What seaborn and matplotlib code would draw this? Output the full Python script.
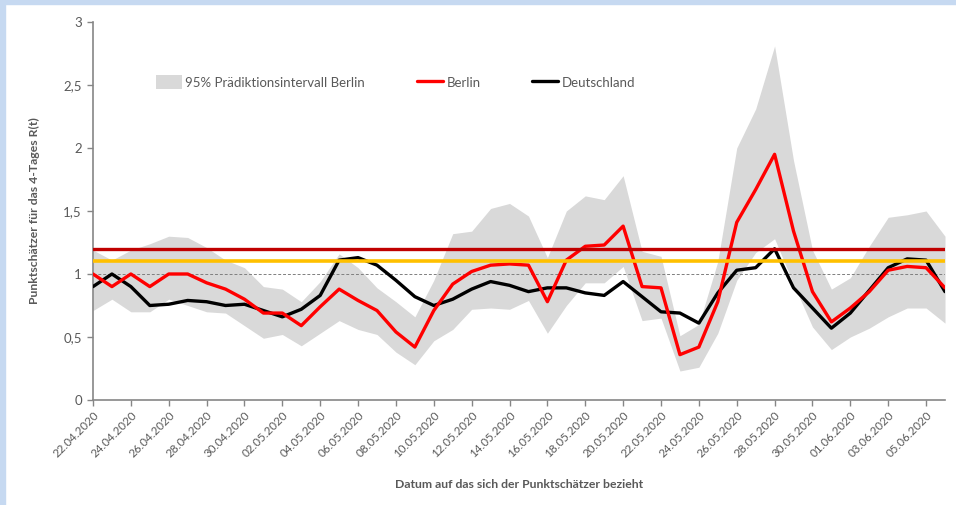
import matplotlib
matplotlib.use("Agg")
import matplotlib.pyplot as plt
from matplotlib.patches import Patch, Rectangle
from matplotlib.lines import Line2D
import pandas as pd
import seaborn as sns

# Daten: 4-Tages R(t), 22.04.2020 - 06.06.2020
dates = pd.date_range("2020-04-22", "2020-06-06", freq="D")

berlin = [1.00, 0.90, 1.00, 0.90, 1.00, 1.00, 0.93, 0.88, 0.80, 0.69,
          0.69, 0.59, 0.74, 0.88, 0.79, 0.71, 0.54, 0.42, 0.71, 0.92,
          1.02, 1.07, 1.08, 1.07, 0.78, 1.11, 1.22, 1.23, 1.38, 0.90,
          0.89, 0.36, 0.42, 0.78, 1.41, 1.67, 1.95, 1.34, 0.86, 0.62,
          0.73, 0.86, 1.03, 1.06, 1.05, 0.89]
deutschland = [0.90, 1.00, 0.90, 0.75, 0.76, 0.79, 0.78, 0.75, 0.76, 0.71,
               0.66, 0.72, 0.83, 1.11, 1.13, 1.07, 0.95, 0.82, 0.75, 0.80,
               0.88, 0.94, 0.91, 0.86, 0.89, 0.89, 0.85, 0.83, 0.94, 0.82,
               0.70, 0.69, 0.61, 0.85, 1.03, 1.05, 1.20, 0.89, 0.73, 0.57,
               0.69, 0.87, 1.05, 1.12, 1.11, 0.86]
pi_upper = [1.19, 1.11, 1.19, 1.24, 1.30, 1.29, 1.21, 1.11, 1.05, 0.90,
            0.88, 0.78, 0.94, 1.16, 1.05, 0.89, 0.78, 0.66, 0.95, 1.32,
            1.34, 1.52, 1.56, 1.46, 1.13, 1.50, 1.62, 1.59, 1.78, 1.18,
            1.14, 0.51, 0.60, 1.10, 2.00, 2.31, 2.81, 1.90, 1.19, 0.88,
            0.97, 1.22, 1.45, 1.47, 1.50, 1.30]
pi_lower = [0.71, 0.80, 0.70, 0.70, 0.80, 0.75, 0.70, 0.69, 0.59, 0.49,
            0.52, 0.43, 0.53, 0.63, 0.56, 0.52, 0.38, 0.28, 0.47, 0.56,
            0.72, 0.73, 0.72, 0.79, 0.53, 0.75, 0.93, 0.93, 1.06, 0.63,
            0.65, 0.23, 0.26, 0.53, 0.95, 1.17, 1.28, 0.92, 0.58, 0.40,
            0.50, 0.57, 0.66, 0.73, 0.73, 0.61]

# Schwellenwerte
ref_red = 1.2
ref_yellow = 1.1
ref_one = 1.0

y_ticks = [0, 0.5, 1, 1.5, 2, 2.5, 3]
y_tick_labels = ["0", "0,5", "1", "1,5", "2", "2,5", "3"]

legend_labels = ["95% Prädiktionsintervall Berlin", "Berlin", "Deutschland"]

sns.set_style("white")
plt.rcParams["font.family"] = ["Lato", "DejaVu Sans"]

df = pd.DataFrame({"Datum": dates, "Berlin": berlin, "Deutschland": deutschland,
                   "oben": pi_upper, "unten": pi_lower})

grey_txt = "#595959"
fig = plt.figure(figsize=(9.56, 5.05), dpi=100)
ax = fig.add_axes([93 / 956, 105 / 505, 852 / 956, 378 / 505])

# hellblauer Rahmen des Screenshots
fig.patches.append(Rectangle((0, 0), 5 / 956, 1, transform=fig.transFigure,
                             color="#c6d9f1", zorder=0))
fig.patches.append(Rectangle((0, 1 - 4 / 505), 1, 4 / 505, transform=fig.transFigure,
                             color="#c6d9f1", zorder=0))

ax.fill_between(df["Datum"], df["unten"], df["oben"], color="#d9d9d9", lw=0, zorder=1)
ax.axhline(ref_one, color="#7f7f7f", lw=0.7, ls=(0, (3, 2)), zorder=2)
sns.lineplot(data=df, x="Datum", y="Deutschland", color="black", lw=2.4, ax=ax, zorder=3)
sns.lineplot(data=df, x="Datum", y="Berlin", color="#ff0000", lw=2.4, ax=ax, zorder=3)
ax.axhline(ref_red, color="#c00000", lw=2.4, zorder=4)
ax.axhline(ref_yellow, color="#ffc000", lw=2.6, zorder=4)

ax.set_xlim(dates[0], dates[-1])
ax.set_ylim(0, 3)
ax.set_yticks(y_ticks)
ax.set_yticklabels(y_tick_labels)
ax.set_xticks(dates[:-1:2])
ax.set_xticklabels([d.strftime("%d.%m.%Y") for d in dates[:-1:2]],
                   rotation=45, ha="right", rotation_mode="anchor")
ax.tick_params(axis="y", labelsize=9.5, colors="#868686", labelcolor=grey_txt,
               length=4, width=1, direction="out", left=True, pad=4)
ax.tick_params(axis="x", labelsize=8.4, colors="#868686", labelcolor=grey_txt,
               length=4, width=1, direction="out", bottom=True, pad=3)

sns.despine(ax=ax)
for side in ["left", "bottom"]:
    ax.spines[side].set_color("#868686")
    ax.spines[side].set_linewidth(1.2)

ax.set_xlabel("Datum auf das sich der Punktschätzer bezieht", fontsize=8.8,
              fontweight="bold", color=grey_txt, labelpad=14)
ax.set_ylabel("Punktschätzer für das 4-Tages R(t)", fontsize=8.8,
              fontweight="bold", color=grey_txt, labelpad=17)

handles = [Patch(facecolor="#d9d9d9", edgecolor="none"),
           Line2D([], [], color="#ff0000", lw=2.4),
           Line2D([], [], color="black", lw=2.4)]
leg = ax.legend(handles, legend_labels, loc="center", bbox_to_anchor=(0.355, 0.841),
                ncol=3, frameon=False, fontsize=9.5, handlelength=2.0,
                handletextpad=0.25, columnspacing=3.9, handleheight=1.2)
for t in leg.get_texts():
    t.set_color(grey_txt)

fig.savefig("out.png", dpi=100)
